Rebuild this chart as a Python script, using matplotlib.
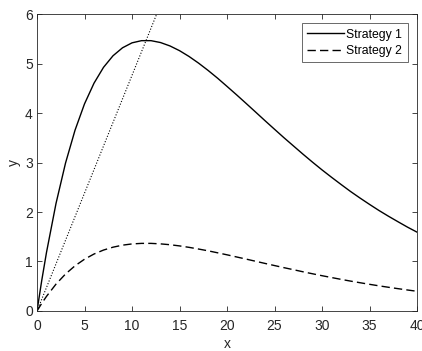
import matplotlib
matplotlib.use('Agg')
import matplotlib.pyplot as plt

# значения
x = [0, 0.5, 1, 2, 3, 4, 5, 6, 7, 8, 9, 10, 11, 12, 13, 14, 15, 16, 17, 18, 19,
     20, 21, 22, 23, 24, 25, 26, 27, 28, 29, 30, 31, 32, 33, 34, 35, 36, 37,
     38, 39, 40]
strategy1 = [0, 0.619, 1.185, 2.173, 2.988, 3.652, 4.185, 4.603, 4.923, 5.157,
             5.318, 5.418, 5.462, 5.462, 5.424, 5.355, 5.260, 5.143, 5.009,
             4.862, 4.705, 4.538, 4.369, 4.196, 4.021, 3.845, 3.672, 3.500,
             3.334, 3.168, 3.007, 2.851, 2.702, 2.557, 2.415, 2.282, 2.154,
             2.030, 1.914, 1.803, 1.694, 1.593]
strategy2 = [0, 0.155, 0.296, 0.543, 0.747, 0.913, 1.046, 1.151, 1.231, 1.289,
             1.330, 1.355, 1.366, 1.366, 1.356, 1.339, 1.315, 1.286, 1.252,
             1.216, 1.176, 1.135, 1.092, 1.049, 1.005, 0.961, 0.918, 0.875,
             0.834, 0.792, 0.752, 0.713, 0.676, 0.639, 0.604, 0.571, 0.539,
             0.508, 0.479, 0.451, 0.424, 0.398]
# пунктир через начало координат и вершину
line_x = [0, 12.6]
line_y = [0, 6.0]

plt.rcParams['font.family'] = ['Liberation Sans', 'DejaVu Sans']

fig = plt.figure(figsize=(4.22, 3.51), dpi=100)
ax = fig.add_axes([0.0877, 0.114, 0.9005, 0.846])

ax.plot(x, strategy1, color='black', lw=1.0, label='Strategy 1')
ax.plot(x, strategy2, color='black', lw=1.0, dashes=(6, 3), label='Strategy 2')
ax.plot(line_x, line_y, color='black', lw=0.8, dashes=(1, 1.6))

ax.set_xlim(0, 40)
ax.set_ylim(0, 6)
ax.set_xticks(range(0, 41, 5))
ax.set_yticks(range(0, 7))
ax.set_xlabel('x', fontsize=10, color='#262626', labelpad=3)
ax.set_ylabel('y', fontsize=10, color='#262626', labelpad=3)

ax.tick_params(direction='in', length=3.5, width=0.6, top=True, right=True,
               labelsize=10, colors='#262626', pad=3)
ax.tick_params(axis='x', pad=6)
for s in ax.spines.values():
    s.set_linewidth(0.6)
    s.set_color('#262626')

leg = ax.legend(loc='upper right', fontsize=8.8, frameon=True, fancybox=False,
                edgecolor='#262626', borderpad=0.45, handlelength=3.0,
                handletextpad=0.2, labelspacing=0.35, borderaxespad=0.75)
leg.get_frame().set_linewidth(0.6)

fig.savefig('out.png', dpi=100)
